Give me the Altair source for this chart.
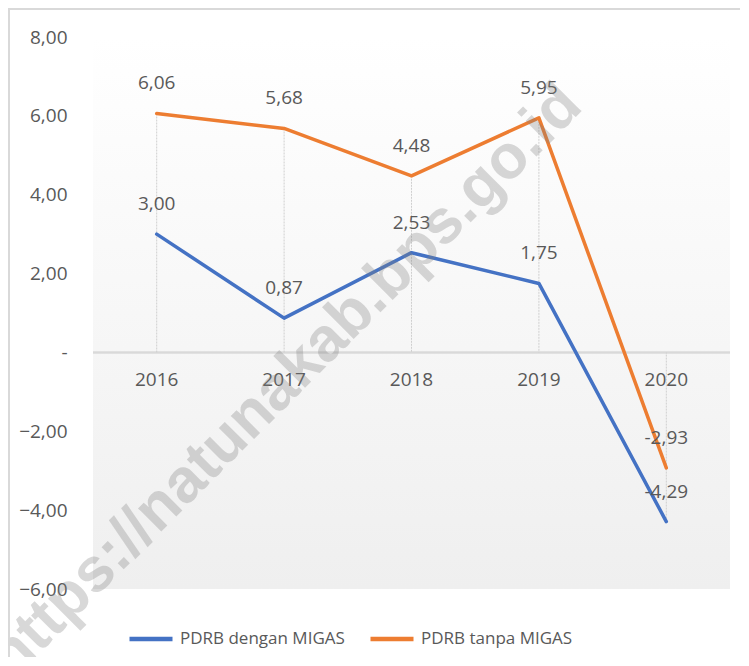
import altair as alt
import pandas as pd

years = ["2016", "2017", "2018", "2019", "2020"]
dengan_migas = [3.00, 0.87, 2.53, 1.75, -4.29]
tanpa_migas = [6.06, 5.68, 4.48, 5.95, -2.93]
series_names = ["PDRB dengan MIGAS", "PDRB tanpa MIGAS"]
series_colors = ["#4472C4", "#ED7D31"]
y_ticks = [-6, -4, -2, 0, 2, 4, 6, 8]
watermark = "https://natunakab.bps.go.id"

FONT = "Open Sans"
TXT = "#595959"
W, H = 637, 552

rows = []
for name, vals in zip(series_names, [dengan_migas, tanpa_migas]):
    for y, v in zip(years, vals):
        rows.append({"year": y, "series": name, "value": v,
                     "label": f"{v:.2f}".replace(".", ",")})
df = pd.DataFrame(rows)

drop = pd.DataFrame({
    "year": years,
    "ext": [a if abs(a) > abs(b) else b for a, b in zip(dengan_migas, tanpa_migas)],
})
yr = pd.DataFrame({"year": years})

xs = alt.X("year:N", sort=years, axis=None,
           scale=alt.Scale(paddingInner=0, paddingOuter=0))
yscale = alt.Scale(domain=[-6, 8], nice=False, zero=False)

bg = alt.Chart(yr).mark_rect(
    color=alt.LinearGradient(
        gradient="linear",
        stops=[alt.GradientStop(color="#ffffff", offset=0),
               alt.GradientStop(color="#efefef", offset=1)],
        x1=0, x2=0, y1=0, y2=1),
).encode(x=alt.value(0), x2=alt.value(W), y=alt.value(0), y2=alt.value(H))

zero = alt.Chart(yr).mark_rule(color="#d9d9d9", strokeWidth=1.5).encode(
    y=alt.datum(0, scale=yscale), x=alt.value(0), x2=alt.value(W))

drops = alt.Chart(drop).mark_rule(color="#cfcfcf", strokeWidth=1, strokeDash=[2, 1]).encode(
    x=xs,
    y=alt.Y("ext:Q", scale=yscale,
            axis=alt.Axis(values=y_ticks, title=None, domain=False, ticks=False, grid=False,
                          labelExpr="datum.value == 0 ? '-' : replace(format(datum.value, '.2f'), '.', ',')",
                          labelFontSize=19, labelColor=TXT, labelFont=FONT, labelPadding=26)),
    y2=alt.datum(0),
)

lines = alt.Chart(df).mark_line(strokeWidth=3.5, strokeCap="round", strokeJoin="round").encode(
    x=xs,
    y=alt.Y("value:Q", scale=yscale),
    color=alt.Color("series:N", sort=series_names,
                    scale=alt.Scale(domain=series_names, range=series_colors),
                    legend=alt.Legend(title=None, orient="none", direction="horizontal",
                                      legendX=34, legendY=578,
                                      symbolType="stroke", symbolSize=1849, symbolStrokeWidth=4.5,
                                      labelFontSize=17, labelFont=FONT, labelColor=TXT,
                                      labelLimit=400,
                                      labelOffset=5, columnPadding=16, padding=0)),
)

labels = alt.Chart(df).mark_text(fontSize=19, font=FONT, color=TXT, dy=-30, baseline="middle").encode(
    x=xs, y=alt.Y("value:Q", scale=yscale), text="label:N")

year_text = alt.Chart(yr).mark_text(fontSize=19, font=FONT, color=TXT, dy=28, baseline="middle").encode(
    x=xs, y=alt.datum(0, scale=yscale), text="year:N")

wm = alt.Chart(pd.DataFrame({"t": [watermark]})).mark_text(
    font="Liberation Sans", fontWeight="bold", fontSize=62, angle=315,
    color="#808080", opacity=0.3, align="center", baseline="middle",
).encode(x=alt.value(192), y=alt.value(344), text="t:N")

border_left = alt.Chart(yr).mark_rule(color="#d9d9d9", strokeWidth=1.5).encode(
    x=alt.value(-84.2), y=alt.value(-28), y2=alt.value(H + 80))
border_top = alt.Chart(yr).mark_rule(color="#d9d9d9", strokeWidth=1.5).encode(
    y=alt.value(-28), x=alt.value(-85), x2=alt.value(W + 20))

chart = alt.layer(bg, zero, drops, lines, labels, year_text, wm, border_left, border_top).properties(
    width=W, height=H,
    autosize=alt.AutoSizeParams(type="none"),
    padding={"left": 85, "top": 29, "right": 10, "bottom": 68},
).configure_view(stroke=None).configure_legend(symbolStrokeWidth=4.5)

chart.save("out.html", embed_options={"renderer": "svg", "actions": False})
